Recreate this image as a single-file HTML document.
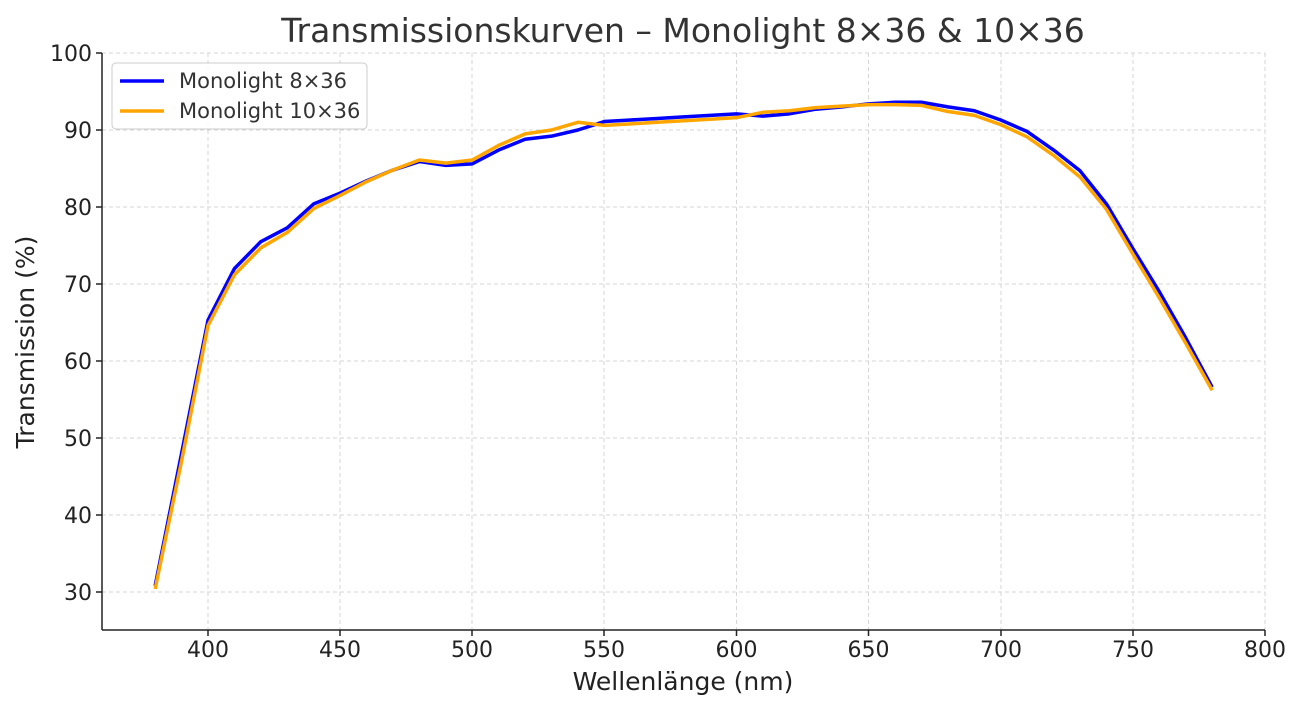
<!DOCTYPE html>
<html><head><meta charset="utf-8"><style>
body{margin:0;background:#fff}
svg text{font-family:"DejaVu Sans","Liberation Sans",sans-serif;fill:#222}
</style></head><body>
<svg width="1303" height="709" viewBox="0 0 1303 709" xmlns="http://www.w3.org/2000/svg">
<rect width="1303" height="709" fill="#fff"/>
<g stroke="#d6d6d6" stroke-width="1" stroke-dasharray="4,3">
<line x1="208" y1="53" x2="208" y2="630"/><line x1="340" y1="53" x2="340" y2="630"/><line x1="472" y1="53" x2="472" y2="630"/><line x1="604" y1="53" x2="604" y2="630"/><line x1="736.5" y1="53" x2="736.5" y2="630"/><line x1="868.5" y1="53" x2="868.5" y2="630"/><line x1="1001" y1="53" x2="1001" y2="630"/><line x1="1133" y1="53" x2="1133" y2="630"/><line x1="1265" y1="53" x2="1265" y2="630"/>
<line x1="102" y1="53" x2="1265" y2="53"/><line x1="102" y1="130" x2="1265" y2="130"/><line x1="102" y1="207" x2="1265" y2="207"/><line x1="102" y1="284" x2="1265" y2="284"/><line x1="102" y1="361" x2="1265" y2="361"/><line x1="102" y1="438" x2="1265" y2="438"/><line x1="102" y1="515" x2="1265" y2="515"/><line x1="102" y1="592" x2="1265" y2="592"/>
</g>
<g stroke="#222" stroke-width="1.5">
<line x1="102" y1="53" x2="102" y2="630"/><line x1="102" y1="630" x2="1265" y2="630"/>
<line x1="208" y1="630" x2="208" y2="636"/><line x1="340" y1="630" x2="340" y2="636"/><line x1="472" y1="630" x2="472" y2="636"/><line x1="604" y1="630" x2="604" y2="636"/><line x1="736.5" y1="630" x2="736.5" y2="636"/><line x1="868.5" y1="630" x2="868.5" y2="636"/><line x1="1001" y1="630" x2="1001" y2="636"/><line x1="1133" y1="630" x2="1133" y2="636"/><line x1="1265" y1="630" x2="1265" y2="636"/>
<line x1="96" y1="53" x2="102" y2="53"/><line x1="96" y1="130" x2="102" y2="130"/><line x1="96" y1="207" x2="102" y2="207"/><line x1="96" y1="284" x2="102" y2="284"/><line x1="96" y1="361" x2="102" y2="361"/><line x1="96" y1="438" x2="102" y2="438"/><line x1="96" y1="515" x2="102" y2="515"/><line x1="96" y1="592" x2="102" y2="592"/>
</g>
<g font-size="22" text-anchor="middle">
<text x="208" y="657">400</text><text x="340" y="657">450</text><text x="472" y="657">500</text><text x="604" y="657">550</text><text x="736.5" y="657">600</text><text x="868.5" y="657">650</text><text x="1001" y="657">700</text><text x="1133" y="657">750</text><text x="1265" y="657">800</text>
</g>
<g font-size="22" text-anchor="end">
<text x="92" y="61">100</text><text x="92" y="138">90</text><text x="92" y="215">80</text><text x="92" y="292">70</text><text x="92" y="369">60</text><text x="92" y="446">50</text><text x="92" y="523">40</text><text x="92" y="600">30</text>
</g>
<text x="683" y="690" font-size="25" text-anchor="middle">Wellenlänge (nm)</text>
<text transform="translate(34,342) rotate(-90)" font-size="25" text-anchor="middle">Transmission (%)</text>
<text x="683" y="42" font-size="33" text-anchor="middle" style="fill:#333">Transmissionskurven – Monolight 8×36 &amp; 10×36</text>
<g transform="matrix(2.6425 0 0 -7.7 -849 823)" fill="none" stroke-linejoin="round">
<polyline vector-effect="non-scaling-stroke" stroke="#0000ff" stroke-width="3.5" points="380,30.8 390,48 400,65.3 410,72 420,75.5 430,77.3 440,80.4 450,81.8 460,83.4 470,84.8 480,85.9 490,85.4 500,85.6 510,87.4 520,88.8 530,89.2 540,90 550,91.1 560,91.3 570,91.5 580,91.7 590,91.9 600,92.1 610,91.8 620,92.1 630,92.7 640,93 650,93.4 660,93.6 670,93.6 680,93 690,92.5 700,91.3 710,89.8 720,87.4 730,84.7 740,80.4 750,74.6 760,69 770,63 780,56.6"/>
<polyline vector-effect="non-scaling-stroke" stroke="#ffa500" stroke-width="3.5" points="380,30.4 390,47 400,64.6 410,71.2 420,74.7 430,76.7 440,79.8 450,81.5 460,83.3 470,84.8 480,86.1 490,85.7 500,86.1 510,88 520,89.5 530,90 540,91 550,90.6 560,90.8 570,91 580,91.2 590,91.4 600,91.6 610,92.3 620,92.5 630,92.9 640,93.1 650,93.3 660,93.3 670,93.2 680,92.4 690,91.9 700,90.7 710,89.1 720,86.7 730,83.9 740,79.7 750,73.9 760,68.2 770,62.3 780,56.2"/>
</g>
<rect x="112" y="63" width="255" height="66" rx="4" fill="#fff" fill-opacity="0.85" stroke="#ccc"/>
<line x1="120" y1="81" x2="164" y2="81" stroke="#0000ff" stroke-width="3.5"/>
<line x1="120" y1="111" x2="164" y2="111" stroke="#ffa500" stroke-width="3.5"/>
<text x="179" y="88" font-size="21" style="fill:#333">Monolight 8×36</text>
<text x="179" y="118" font-size="21" style="fill:#333">Monolight 10×36</text>
</svg>
</body></html>
